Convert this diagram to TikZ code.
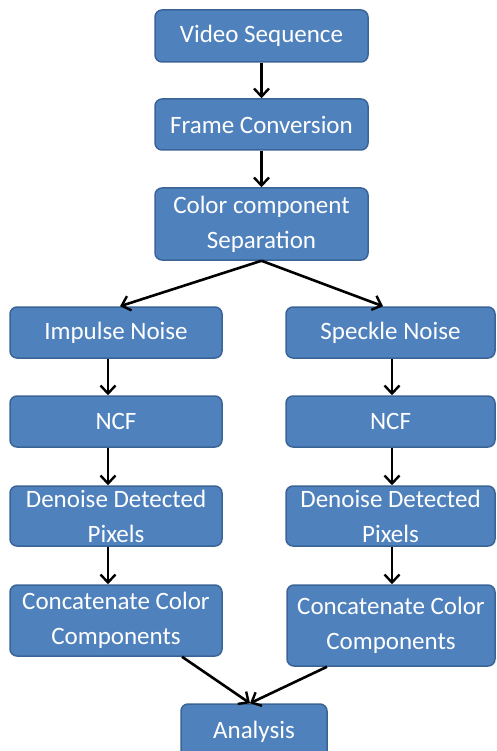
\documentclass[tikz,border=0pt]{standalone}
\usepackage{fontspec}
\setmainfont{Carlito}
\usetikzlibrary{arrows.meta}
\definecolor{boxfill}{HTML}{4F81BD}
\definecolor{boxline}{HTML}{3A6496}
\begin{document}
\begin{tikzpicture}[x=1pt,y=-1pt,
  box/.style={draw=boxline,fill=boxfill,line width=1.5pt,rounded corners=7pt,
    text=white,align=center,inner sep=0pt,
    font=\fontsize{25}{35}\selectfont},
  arr/.style={draw=black,line width=2.6pt,-{Straight Barb[length=8pt,width=15pt,line width=2.4pt]}}]
\useasboundingbox (0,0) rectangle (496,751);
\begin{scope}
\clip (0,0) rectangle (496,751);
\node[box,minimum width=213pt,minimum height=52pt] (vs) at (261.5,36) {Video Sequence};
\node[box,minimum width=213pt,minimum height=51pt] (fc) at (261.5,124.5) {Frame Conversion};
\node[box,minimum width=213pt,minimum height=72pt] (cs) at (261.5,224) {Color component\\Separation};
\node[box,minimum width=212pt,minimum height=51pt] (in) at (116,332.5) {Impulse Noise};
\node[box,minimum width=209pt,minimum height=51pt] (sn) at (390.5,332.5) {Speckle Noise};
\node[box,minimum width=212pt,minimum height=51pt] (ncfL) at (116,421.5) {NCF};
\node[box,minimum width=209pt,minimum height=51pt] (ncfR) at (390.5,421.5) {NCF};
\node[box,minimum width=212pt,minimum height=60pt] (dL) at (116,516) {Denoise Detected\\Pixels};
\node[box,minimum width=209pt,minimum height=60pt] (dR) at (390.5,516) {Denoise Detected\\Pixels};
\node[box,minimum width=212pt,minimum height=71pt] (cL) at (116,620.5) {Concatenate Color\\Components};
\node[box,minimum width=208pt,minimum height=81pt] (cR) at (391,625.5) {Concatenate Color\\Components};
\node[box,minimum width=146pt,minimum height=56pt] (an) at (254,732) {Analysis};
\end{scope}
\draw[arr] (vs.south) -- (fc.north);
\draw[arr] (fc.south) -- (cs.north);
\draw[arr] (cs.south) -- ([xshift=4pt]in.north);
\draw[arr] (cs.south) -- ([xshift=-7.5pt]sn.north);
\draw[arr] ([xshift=-8pt]in.south) -- ([xshift=-8pt]ncfL.north);
\draw[arr] ([xshift=-8pt]ncfL.south) -- ([xshift=-8pt]dL.north);
\draw[arr] ([xshift=-8pt]dL.south) -- ([xshift=-8pt]cL.north);
\draw[arr] ([xshift=1.5pt]sn.south) -- ([xshift=1.5pt]ncfR.north);
\draw[arr] ([xshift=1.5pt]ncfR.south) -- ([xshift=1.5pt]dR.north);
\draw[arr] ([xshift=1.5pt]dR.south) -- ([xshift=1pt]cR.north);
\draw[arr] ([xshift=66pt]cL.south) -- ([xshift=-4pt]an.north);
\draw[arr] ([xshift=-64pt]cR.south) -- ([xshift=-4pt]an.north);
\end{tikzpicture}
\end{document}
